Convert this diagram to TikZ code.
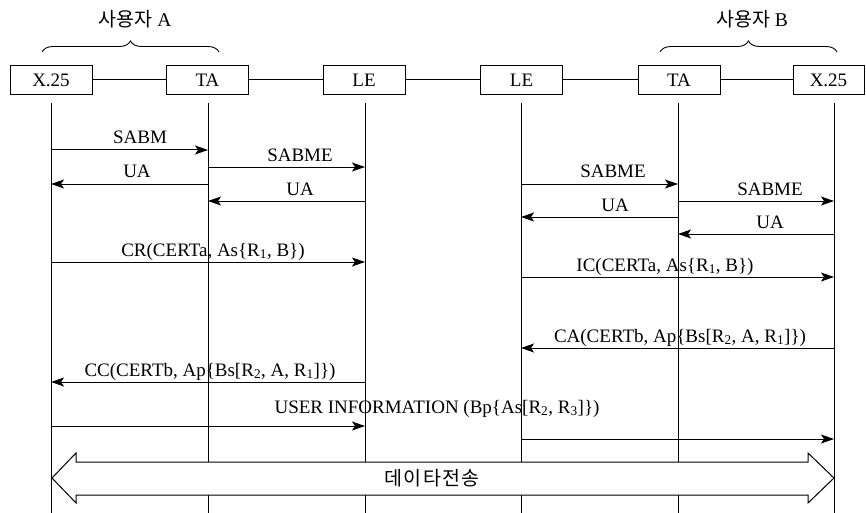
\documentclass[tikz,border=0pt]{standalone}
\usepackage{fontspec}
\setmainfont{Liberation Serif}
\newfontfamily\kr{Noto Sans CJK KR}
\newfontfamily\krs[LetterSpace=6]{Noto Sans CJK KR}
\usetikzlibrary{arrows.meta,decorations.pathreplacing}
\begin{document}
\begin{tikzpicture}[x=1pt,y=-1pt,
  box/.style={draw, line width=1pt, minimum width=82pt, minimum height=29pt, inner sep=0pt, font=\fontsize{19}{21}\selectfont},
  life/.style={line width=0.9pt},
  link/.style={line width=1pt},
  msg/.style={line width=1pt, -{Stealth[length=13pt,width=9pt,inset=3pt]}},
  lbl/.style={anchor=base, inner sep=0pt, font=\fontsize{19}{21}\selectfont},
  brc/.style={decorate, decoration={brace, amplitude=11pt}, line width=0.9pt},
  krl/.style={inner sep=0pt, font=\fontsize{19.5}{22}\selectfont},
  bigarrow/.style={draw, fill=white, line width=1pt}
]
\useasboundingbox (0,0) rectangle (866,513);

% entity boxes
\node[box] (XA)  at (51,80)    {X.25};
\node[box] (TAA) at (207.5,80) {TA};
\node[box] (LEA) at (364,80)   {LE};
\node[box] (LEB) at (521.5,80) {LE};
\node[box] (TAB) at (679,80)   {TA};
\node[box, minimum width=71pt] (XB) at (828.5,80) {X.25};

\draw[link] (XA) -- (TAA);
\draw[link] (TAA) -- (LEA);
\draw[link] (LEA) -- (LEB);
\draw[link] (LEB) -- (TAB);
\draw[link] (TAB) -- (XB);

% braces
\draw[brc] (42,52) -- (219,52);
\node[krl] (ua) at (135,19) {{\kr 사용자} A};
\draw[brc] (660,52) -- (837,52);
\node[krl] (ub) at (752,19) {{\kr 사용자} B};

% lifelines
\coordinate (l1) at (51,103);
\coordinate (l2) at (208,103);
\coordinate (l3) at (365,103);
\coordinate (l4) at (521,103);
\coordinate (l5) at (678,103);
\coordinate (l6) at (834,103);
\foreach \l in {l1,l2,l3,l4,l5,l6}
  \draw[life] (\l) -- (\l |- 0,513);

% messages
\draw[msg] (l1 |- 0,150) -- (l2 |- 0,150);
\node[lbl] (m1) at (140,144) {SABM};
\draw[msg] (l2 |- 0,167) -- (l3 |- 0,167);
\node[lbl] (m2) at (300,161) {SABME};
\draw[msg] (l2 |- 0,184) -- (l1 |- 0,184);
\node[lbl] (m3) at (137,178) {UA};
\draw[msg] (l3 |- 0,201) -- (l2 |- 0,201);
\node[lbl] (m4) at (300,195) {UA};

\draw[msg] (l4 |- 0,184) -- (l5 |- 0,184);
\node[lbl] (m5) at (613,178) {SABME};
\draw[msg] (l5 |- 0,201) -- (l6 |- 0,201);
\node[lbl] (m6) at (770,195) {SABME};
\draw[msg] (l5 |- 0,217) -- (l4 |- 0,217);
\node[lbl] (m7) at (615,211) {UA};
\draw[msg] (l6 |- 0,234) -- (l5 |- 0,234);
\node[lbl] (m8) at (770,228) {UA};

\draw[msg] (l1 |- 0,262) -- (l3 |- 0,262);
\node[lbl] (m9) at (213,256) {CR(CERTa, As\{R\textsubscript{1}, B\})};
\draw[msg] (l4 |- 0,277) -- (l6 |- 0,277);
\node[lbl] (m10) at (665,271) {IC(CERTa, As\{R\textsubscript{1}, B\})};

\draw[msg] (l6 |- 0,348) -- (l4 |- 0,348);
\node[lbl] (m11) at (680,342) {CA(CERTb, Ap\{Bs[R\textsubscript{2}, A, R\textsubscript{1}]\})};
\draw[msg] (l3 |- 0,382) -- (l1 |- 0,382);
\node[lbl] (m12) at (210,376) {CC(CERTb, Ap\{Bs[R\textsubscript{2}, A, R\textsubscript{1}]\})};

\node[lbl] (m13) at (437,413) {USER INFORMATION (Bp\{As[R\textsubscript{2}, R\textsubscript{3}]\})};
\draw[msg] (l1 |- 0,426) -- (l3 |- 0,426);
\draw[msg] (l4 |- 0,439) -- (l6 |- 0,439);

% data transfer double arrow
\path[bigarrow] (52,478) -- (76,453) -- (76,462) -- (808,462) -- (808,453) -- (834,478)
  -- (808,503) -- (808,495) -- (76,495) -- (76,503) -- cycle;
\node[krl] (dt) at (432,478) {\krs 데이타전송};
\end{tikzpicture}
\end{document}
